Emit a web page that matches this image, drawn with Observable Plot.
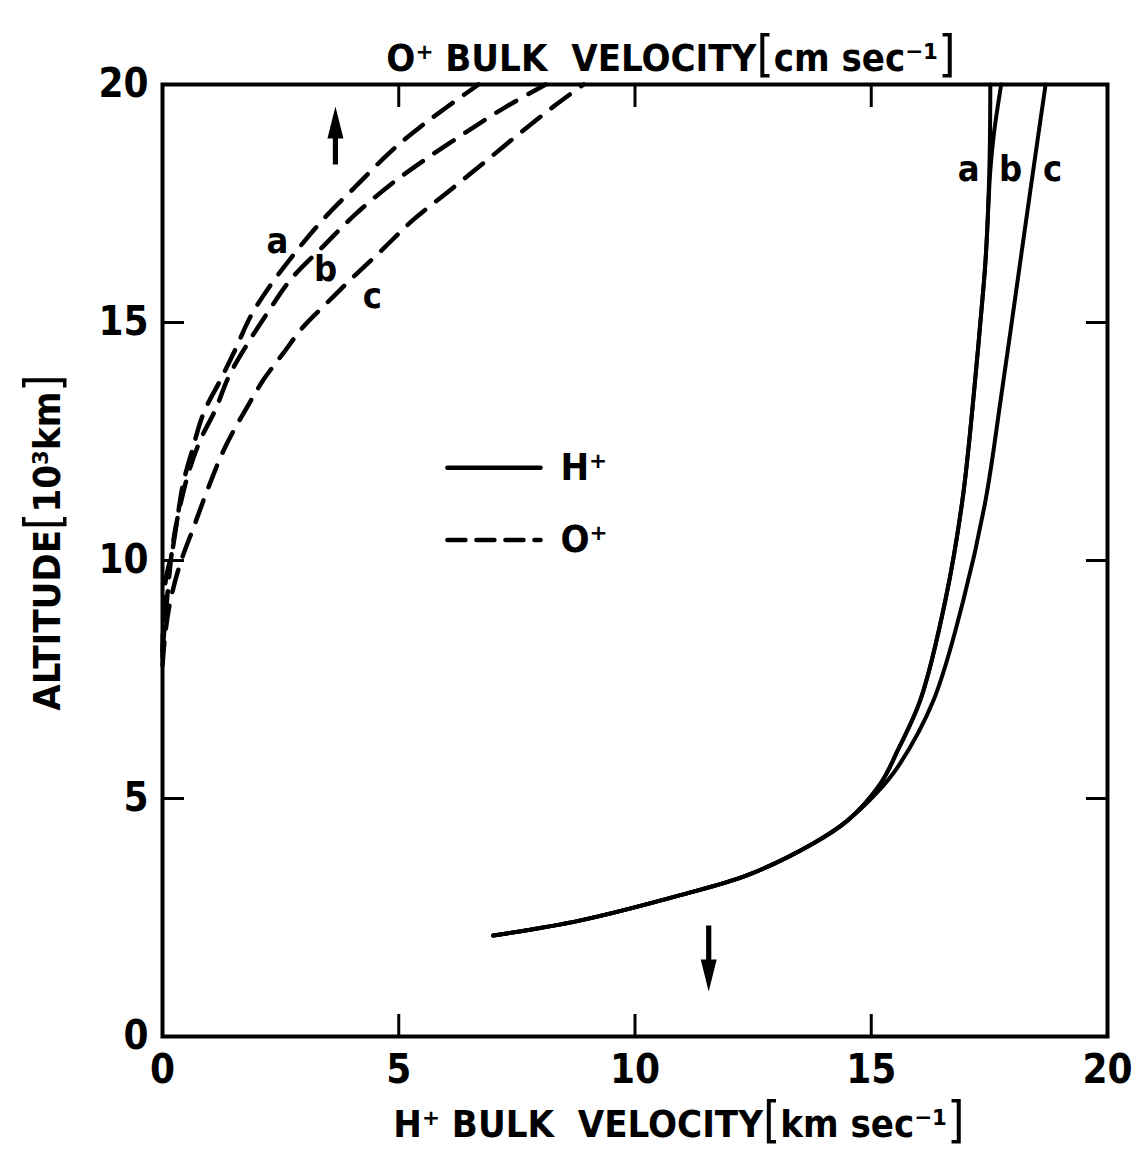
<!DOCTYPE html>
<html><head><meta charset="utf-8">
<script src="https://cdn.jsdelivr.net/npm/d3@7"></script>
<script src="https://cdn.jsdelivr.net/npm/@observablehq/plot@0.6"></script>
<style>body{margin:0;background:#fff} svg{display:block}</style>
</head><body><div id="chart"></div>
<script>
// ---- data ----
const xTicks = [0, 5, 10, 15, 20];
const yTicks = [0, 5, 10, 15, 20];

// H+ bulk velocity [km/s] vs altitude [10^3 km] — solid curves a, b, c
const hA_x = [7.0, 8.85, 10.96, 12.38, 13.78, 14.5, 15.2, 15.56, 16.04, 16.57, 16.93, 17.16, 17.3, 17.42, 17.5, 17.52];
const hA_y = [2.12, 2.44, 2.97, 3.39, 4.06, 4.54, 5.32, 6.01, 7.07, 9.17, 11.27, 13.38, 14.9, 16.32, 18.21, 20.0];
const hB_x = [7.0, 8.85, 10.96, 12.38, 13.78, 14.5, 15.2, 15.56, 16.04, 16.57, 16.93, 17.16, 17.3, 17.42, 17.52, 17.6, 17.75];
const hB_y = [2.12, 2.44, 2.97, 3.39, 4.06, 4.54, 5.32, 6.01, 7.07, 9.17, 11.27, 13.38, 14.9, 16.32, 18.2, 19.0, 20.0];
const hC_x = [7.0, 8.85, 10.96, 12.38, 13.78, 14.5, 15.1, 15.56, 16.32, 16.95, 17.42, 17.74, 18.16, 18.43, 18.69];
const hC_y = [2.12, 2.44, 2.97, 3.39, 4.06, 4.54, 5.1, 5.66, 7.07, 9.17, 11.27, 13.38, 16.32, 18.21, 20.0];

// O+ bulk velocity [cm/s] vs altitude — dashed curves a, b, c
const oA_x = [0.0, 0.06, 0.21, 0.32, 0.44, 0.63, 0.87, 1.23, 1.54, 1.86, 2.22, 2.81, 3.45, 4.13, 4.83, 5.52, 6.69];
const oA_y = [7.97, 9.53, 10.22, 10.92, 11.63, 12.32, 13.10, 13.80, 14.43, 15.12, 15.69, 16.47, 17.22, 17.90, 18.59, 19.16, 20.0];
const oB_x = [0.0, 0.21, 0.34, 0.55, 0.80, 1.12, 1.40, 1.76, 2.22, 2.71, 3.39, 4.08, 4.83, 5.61, 6.46, 7.25, 8.11];
const oB_y = [8.1, 10.28, 11.0, 11.84, 12.53, 13.17, 13.86, 14.49, 15.2, 15.9, 16.59, 17.27, 17.9, 18.46, 19.02, 19.52, 20.0];
const oC_x = [0.0, 0.06, 0.17, 0.38, 0.66, 0.95, 1.33, 1.76, 2.14, 2.56, 2.98, 3.49, 3.98, 4.61, 5.31, 6.10, 6.88, 7.58, 8.28, 8.91];
const oC_y = [7.8, 8.48, 9.17, 9.95, 10.70, 11.48, 12.39, 13.17, 13.80, 14.36, 14.91, 15.42, 15.9, 16.49, 17.16, 17.79, 18.42, 18.99, 19.54, 20.0];

const curveLabels = ["a", "b", "c"];
const legendLabels = ["H⁺", "O⁺"];
const topTitle = "O⁺ BULK  VELOCITY[cm sec⁻¹]";
const bottomTitle = "H⁺ BULK  VELOCITY[km sec⁻¹]";
const yTitle = "ALTITUDE[10³km]";

// ---- build tables ----
function rows(xs, ys, ion, run) { return xs.map((x, i) => ({x, y: ys[i], ion, run})); }
const hData = [...rows(hA_x, hA_y, "H", "a"), ...rows(hB_x, hB_y, "H", "b"), ...rows(hC_x, hC_y, "H", "c")];
const oData = [...rows(oA_x, oA_y, "O", "a"), ...rows(oB_x, oB_y, "O", "b"), ...rows(oC_x, oC_y, "O", "c")];

// annotation placement (layout)
const hLabelPos = [{x: 17.06, y: 18.21}, {x: 17.95, y: 18.21}, {x: 18.84, y: 18.21}];
const oLabelPos = [{x: 2.43, y: 16.70}, {x: 3.45, y: 16.11}, {x: 4.44, y: 15.54}];
const hLabels = curveLabels.map((t, i) => ({t, ...hLabelPos[i]}));
const oLabels = curveLabels.map((t, i) => ({t, ...oLabelPos[i]}));
const legendSolid = [{x1: 6.03, x2: 8.0, y: 11.95, t: legendLabels[0]}];
const legendDash = [{x1: 6.03, x2: 8.0, y: 10.43, t: legendLabels[1]}];
const upArrow = [{x: 3.66, y: 18.32}];
const downArrow = [{x: 11.56, y: 2.33}];

const FONT = "'DejaVu Sans Condensed', 'DejaVu Sans', sans-serif";

const arrowShape = {
  draw(ctx, l) {
    const w = 2.6, hw = 8, hl = 32;
    ctx.moveTo(-w, 0); ctx.lineTo(w, 0); ctx.lineTo(w, -l + hl); ctx.lineTo(hw, -l + hl);
    ctx.lineTo(0, -l); ctx.lineTo(-hw, -l + hl); ctx.lineTo(-w, -l + hl); ctx.closePath();
  }
};

const txt = {fontWeight: "bold", fontFamily: FONT};

const plot = Plot.plot({
  width: 1139, height: 1160,
  marginLeft: 162, marginRight: 32, marginTop: 84, marginBottom: 124,
  style: {fontFamily: FONT, background: "#fff", color: "#000"},
  x: {domain: [0, 20], ticks: xTicks},
  y: {domain: [0, 20], ticks: yTicks},
  marks: [
    Plot.axisX(xTicks, {anchor: "bottom", tickSize: -22, tickPadding: 40, strokeWidth: 3, fontSize: 40, fontWeight: "bold", label: null}),
    Plot.axisX(xTicks, {anchor: "top", tickSize: -22, strokeWidth: 3, tickFormat: () => "", label: null}),
    Plot.axisY(yTicks, {anchor: "left", tickSize: -22, tickPadding: 36, strokeWidth: 3, fontSize: 40, fontWeight: "bold", label: null}),
    Plot.axisY(yTicks, {anchor: "right", tickSize: -22, strokeWidth: 3, tickFormat: () => "", label: null}),
    Plot.frame({stroke: "#000", strokeWidth: 4}),
    Plot.line(hData, {x: "x", y: "y", z: "run", stroke: "#000", strokeWidth: 4, curve: "catmull-rom"}),
    Plot.line(oData, {x: "x", y: "y", z: "run", stroke: "#000", strokeWidth: 4.5, strokeDasharray: "23,14", strokeLinecap: "round", curve: "catmull-rom"}),
    Plot.text(hLabels, {x: "x", y: "y", text: "t", fontSize: 36, ...txt}),
    Plot.text(oLabels, {x: "x", y: "y", text: "t", fontSize: 36, ...txt}),
    Plot.link(legendSolid, {x1: "x1", x2: "x2", y1: "y", y2: "y", stroke: "#000", strokeWidth: 4.5, strokeLinecap: "round"}),
    Plot.link(legendDash, {x1: "x1", x2: "x2", y1: "y", y2: "y", stroke: "#000", strokeWidth: 4.5, strokeDasharray: "18,11", strokeLinecap: "round"}),
    Plot.text([...legendSolid, ...legendDash], {x: "x2", y: "y", text: "t", dx: 20, textAnchor: "start", fontSize: 38, ...txt}),
    Plot.vector(upArrow, {x: "x", y: "y", rotate: 0, length: 58, anchor: "start", shape: arrowShape, fill: "#000", stroke: "none"}),
    Plot.vector(downArrow, {x: "x", y: "y", rotate: 180, length: 66, anchor: "start", shape: arrowShape, fill: "#000", stroke: "none"}),
    Plot.text([topTitle], {frameAnchor: "top", dy: -40, dx: 36, textAnchor: "middle", fontSize: 38, ...txt}),
    Plot.text([bottomTitle], {frameAnchor: "bottom", dy: 100, dx: 44, textAnchor: "middle", fontSize: 38, ...txt}),
    Plot.text([yTitle], {frameAnchor: "left", dx: -115, dy: -18, rotate: -90, textAnchor: "middle", fontSize: 38, ...txt})
  ]
});

// enlarge the square brackets in the titles, as in the reference
plot.querySelectorAll("text").forEach(t => {
  const s = t.textContent;
  if (!/[\[\]]/.test(s) || t.querySelector("tspan")) return;
  t.textContent = "";
  s.split(/([\[\]])/).filter(p => p !== "").forEach(p => {
    const ts = document.createElementNS("http://www.w3.org/2000/svg", "tspan");
    ts.textContent = p;
    if (p === "[" || p === "]") { ts.setAttribute("font-size", "1.3em"); ts.setAttribute("font-weight", "normal"); }
    t.appendChild(ts);
  });
});

document.getElementById("chart").appendChild(plot);
</script>
</body></html>
